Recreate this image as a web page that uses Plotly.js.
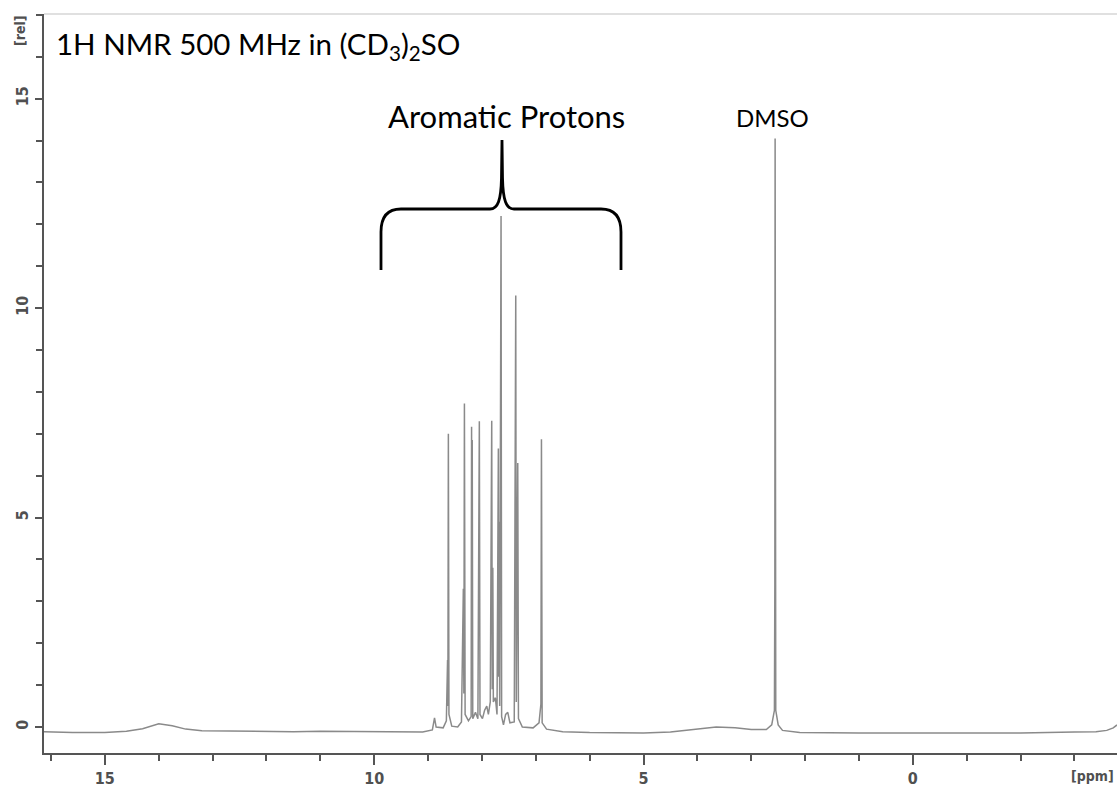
<!DOCTYPE html>
<html>
<head>
<meta charset="utf-8">
<script src="https://cdn.plot.ly/plotly-3.0.1.min.js"></script>
<style>
  html, body { margin: 0; padding: 0; background: #ffffff; }
  #chart { width: 1117px; height: 789px; }
</style>
</head>
<body>
<div id="chart"></div>
<script>
// ---- Data ----
const ppm = [
  16.13, 15.6, 15.0, 14.6, 14.3, 14.0, 13.75, 13.5, 13.2, 12.5, 12.0, 11.5, 11.0, 10.5, 10.0, 9.5, 9.1,
  8.92, 8.88, 8.85, 8.72, 8.66, 8.638, 8.632, 8.623, 8.612, 8.56, 8.45, 8.38, 8.345, 8.335, 8.325, 8.312,
  8.25, 8.20, 8.192, 8.186, 8.18, 8.17, 8.12, 8.075, 8.048, 8.036, 7.99, 7.95, 7.91, 7.88, 7.845, 7.818,
  7.808, 7.798, 7.788, 7.75, 7.72, 7.695, 7.688, 7.68, 7.67, 7.645, 7.634, 7.6, 7.56, 7.52, 7.48, 7.40,
  7.372, 7.362, 7.335, 7.322, 7.25, 7.05, 6.94, 6.905, 6.895, 6.882, 6.8, 6.5, 6.0, 5.5, 5.0, 4.5, 4.2,
  3.9, 3.65, 3.3, 3.0, 2.72, 2.62, 2.57, 2.562, 2.557, 2.552, 2.545, 2.50, 2.42, 2.1, 1.5, 1.0, 0.0, -1.0,
  -2.0, -3.0, -3.4, -3.6, -3.72, -3.79
];
const intensity = [
  -0.11, -0.13, -0.13, -0.10, -0.04, 0.08, 0.03, -0.05, -0.09, -0.10, -0.09, -0.11, -0.10, -0.11, -0.11, -0.12, -0.12,
  -0.07, 0.22, 0.0, -0.02, 0.15, 1.6, 0.5, 7.0, 0.3, 0.02, 0.0, 0.12, 3.3, 0.8, 7.72, 0.3,
  0.15, 0.25, 7.17, 1.5, 6.85, 0.2, 0.35, 0.2, 7.3, 0.3, 0.2, 0.4, 0.5, 0.3, 0.6, 7.31,
  0.9, 3.8, 0.6, 0.7, 0.3, 6.65, 1.2, 4.9, 0.5, 12.2, 0.25, 0.05, 0.3, 0.35, 0.1, 0.12,
  10.3, 0.6, 6.3, 0.2, 0.0, -0.02, 0.1, 0.55, 6.87, 0.1, -0.05, -0.11, -0.13, -0.14, -0.14, -0.12, -0.08,
  -0.03, 0.0, -0.02, -0.06, -0.06, 0.05, 0.4, 3.4, 14.05, 3.4, 0.4, 0.05, -0.08, -0.13, -0.14, -0.14, -0.14, -0.14,
  -0.14, -0.12, -0.11, -0.08, -0.02, 0.05
];
const xTickVals = [15, 10, 5, 0];
const xTickText = ["15", "10", "5", "0"];
const yTickVals = [0, 5, 10, 15];
const yTickText = ["0", "5", "10", "15"];
const titleText = "1H NMR 500 MHz in (CD<sub>3</sub>)<sub>2</sub>SO";
const groupLabel = "Aromatic Protons";
const solventLabel = "DMSO";
const xUnit = "[ppm]";
const yUnit = "[rel]";

// ---- Layout helpers (pixel -> paper) ----
const W = 1117, H = 789;
const M = { l: 44, r: 0, t: 14, b: 36 };
const PW = W - M.l - M.r, PH = H - M.t - M.b;
const px = x => +((x - M.l) / PW).toFixed(5);
const py = y => +((H - M.b - y) / PH).toFixed(5);

function pathFrom(cmds) {
  return cmds.map(c => {
    const op = c[0];
    const nums = c.slice(1);
    const parts = [];
    for (let i = 0; i < nums.length; i += 2) parts.push(px(nums[i]) + ',' + py(nums[i + 1]));
    return op + ' ' + parts.join(' ');
  }).join(' ');
}

const bracePath = pathFrom([
  ['M', 381, 270], ['L', 381, 232], ['Q', 381, 209, 401, 209], ['L', 490, 209],
  ['C', 498, 209, 501, 200, 501.5, 178], ['L', 502, 140], ['L', 502.5, 178],
  ['C', 503, 200, 506, 209, 514, 209], ['L', 601, 209], ['Q', 621, 209, 621, 232], ['L', 621, 270]
]);

const axisColor = '#555555';
const tickFont = { family: 'DejaVu Sans Condensed, DejaVu Sans, sans-serif', size: 16, color: '#505050', weight: 'bold' };
const unitFont = { family: 'DejaVu Sans Condensed, DejaVu Sans, sans-serif', size: 14, color: '#505050', weight: 'bold' };

const trace = {
  type: 'scatter',
  mode: 'lines',
  x: ppm,
  y: intensity,
  line: { color: '#8a8a8a', width: 1.5 },
  hoverinfo: 'x+y'
};

const layout = {
  width: W, height: H,
  margin: M,
  paper_bgcolor: '#ffffff',
  plot_bgcolor: '#ffffff',
  showlegend: false,
  xaxis: {
    range: [16.13, -3.79],
    showgrid: false, zeroline: false,
    showline: true, linecolor: axisColor, linewidth: 2,
    ticks: 'outside', ticklen: 10, tickwidth: 2, tickcolor: axisColor,
    tickmode: 'array', tickvals: xTickVals, ticktext: xTickText,
    tickfont: tickFont,
    minor: { dtick: 1, tick0: 0, ticks: 'outside', ticklen: 6, tickwidth: 2, tickcolor: axisColor, showgrid: false }
  },
  yaxis: {
    range: [-0.62, 17.02],
    showgrid: false, zeroline: false,
    showline: true, linecolor: axisColor, linewidth: 2,
    ticks: 'outside', ticklen: 7, tickwidth: 2, tickcolor: axisColor,
    tickmode: 'array', tickvals: yTickVals, ticktext: yTickText,
    tickangle: -90,
    tickfont: tickFont,
    ticklabelstandoff: 1,
    minor: { dtick: 1, tick0: 0, ticks: 'outside', ticklen: 6, tickwidth: 2, tickcolor: axisColor, showgrid: false }
  },
  shapes: [
    { type: 'path', xref: 'paper', yref: 'paper', path: bracePath,
      line: { color: '#000000', width: 2.8 }, fillcolor: 'rgba(0,0,0,0)' },
    { type: 'line', xref: 'paper', yref: 'paper', x0: 0, x1: 1, y0: 1, y1: 1,
      line: { color: '#d6d6d6', width: 1.5 } }
  ],
  annotations: [
    { xref: 'paper', yref: 'paper', x: px(54), y: py(46), xanchor: 'left', yanchor: 'middle',
      text: titleText, showarrow: false,
      font: { family: 'Lato, Open Sans, sans-serif', size: 29.5, color: '#000000' } },
    { xref: 'paper', yref: 'paper', x: px(506), y: py(116), xanchor: 'center', yanchor: 'middle',
      text: groupLabel, showarrow: false,
      font: { family: 'Lato, Open Sans, sans-serif', size: 31, color: '#000000' } },
    { xref: 'paper', yref: 'paper', x: px(773), y: py(117), xanchor: 'center', yanchor: 'middle',
      text: solventLabel, showarrow: false,
      font: { family: 'Lato, Open Sans, sans-serif', size: 24, color: '#000000' } },
    { xref: 'paper', yref: 'paper', x: px(1093), y: py(776), xanchor: 'center', yanchor: 'middle',
      text: xUnit, showarrow: false, font: unitFont },
    { xref: 'paper', yref: 'paper', x: px(20), y: py(30), xanchor: 'center', yanchor: 'middle',
      text: yUnit, showarrow: false, textangle: -90, font: unitFont }
  ]
};

Plotly.newPlot('chart', [trace], layout, { staticPlot: true, displayModeBar: false });
</script>
</body>
</html>
